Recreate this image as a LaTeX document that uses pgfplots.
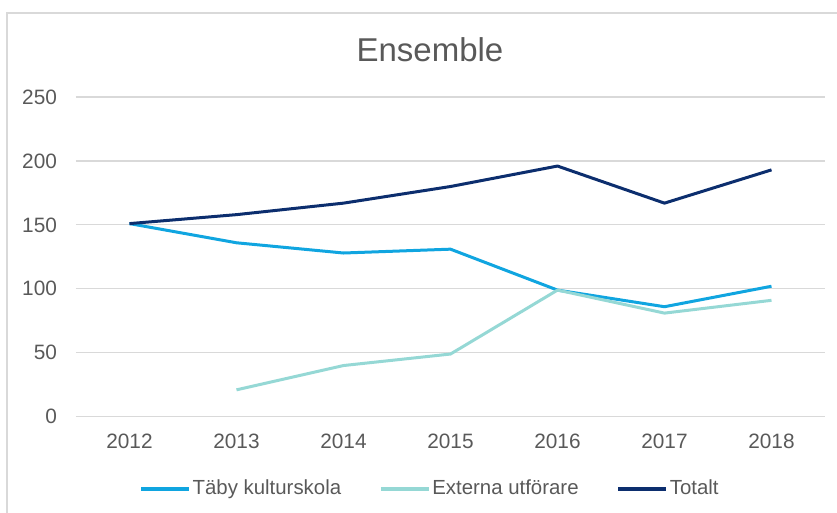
\documentclass[border=0pt]{standalone}
\usepackage{pgfplots}
\pgfplotsset{compat=1.18}
\usepackage{fontspec}
\setmainfont{Liberation Sans}
\definecolor{taby}{HTML}{10A5E0}
\definecolor{ext}{HTML}{95D8D5}
\definecolor{tot}{HTML}{0C2E6E}
\definecolor{gridc}{HTML}{D9D9D9}
\definecolor{txt}{HTML}{595959}
\begin{document}
\begin{tikzpicture}
\path[use as bounding box] (0,0) rectangle (418.5pt,256.5pt);
\draw[gridc, line width=0.8pt] (3.5pt,-5pt) -- (3.5pt,250pt) -- (425pt,250pt);
\node[text=txt, font=\fontsize{16.5}{19}\selectfont] at (215pt,231.5pt) {Ensemble};
\begin{axis}[
  at={(38pt,48.15pt)}, anchor=south west,
  scale only axis, width=374.5pt, height=159.85pt,
  xmin=-0.5, xmax=6.5, ymin=0, ymax=250,
  xtick={0,...,6},
  xticklabels={2012,2013,2014,2015,2016,2017,2018},
  ytick={0,50,100,150,200,250},
  ymajorgrids, grid style={gridc, line width=0.6pt},
  axis line style={draw=none},
  axis x line*=bottom,
  x axis line style={gridc, line width=0.6pt},
  major tick length=0pt,
  tick label style={text=txt, font=\fontsize{10.4}{12}\selectfont},
  yticklabel style={xshift=-6pt},
  xticklabel style={yshift=-5pt},
  /pgf/number format/assume math mode=true,
  /pgf/number format/1000 sep={},
  legend style={at={(0.474,-0.226)}, anchor=center, draw=none, fill=none,
    legend columns=3, font=\fontsize{10.2}{12}\selectfont, text=txt,
    /tikz/every even column/.append style={column sep=17pt},
    /tikz/every odd column/.append style={column sep=-1pt}},
  legend image code/.code={\draw[#1, line width=1.6pt] (0pt,0pt) -- (24pt,0pt);},
  legend cell align=left,
]
\addplot[taby, line width=1.5pt] coordinates {(0,151) (1,136) (2,128) (3,131) (4,99) (5,86) (6,102)};
\addlegendentry{Täby kulturskola}
\addplot[ext, line width=1.5pt] coordinates {(1,21) (2,40) (3,49) (4,99) (5,81) (6,91)};
\addlegendentry{Externa utförare}
\addplot[tot, line width=1.5pt] coordinates {(0,151) (1,158) (2,167) (3,180) (4,196) (5,167) (6,193)};
\addlegendentry{Totalt}
\end{axis}
\end{tikzpicture}
\end{document}
